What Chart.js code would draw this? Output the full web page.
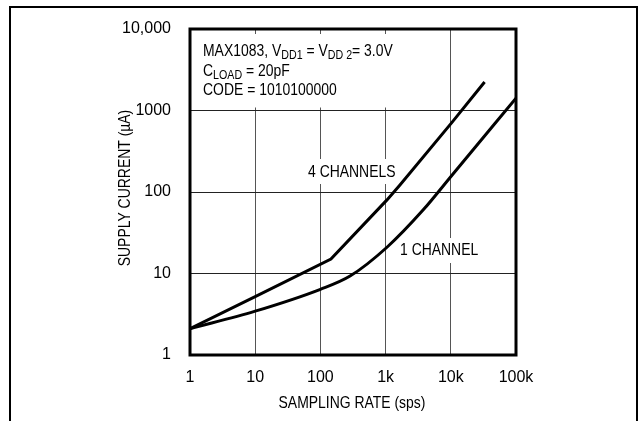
<!DOCTYPE html>
<html>
<head>
<meta charset="utf-8">
<script src="https://cdn.jsdelivr.net/npm/chart.js@4.4.0/dist/chart.umd.min.js"></script>
<style>
  body { margin: 0; background: #fff; }
  #wrap { width: 642px; height: 421px; position: relative; }
</style>
</head>
<body>
<div id="wrap"><canvas id="supply" width="642" height="421"></canvas></div>
<script>
// sampling rate (sps) / supply current (uA)
let fourX = [1, 10, 145, 1050, 1660, 10500, 33000];
let fourY = [2.1, 5.2, 15, 80, 122, 720, 2240];
let oneX = [1, 10, 100, 285, 1050, 3750, 10500, 100000];
let oneY = [2.1, 3.45, 6.4, 9.3, 21, 60, 162, 1420];

let xTicks = [1, 10, 100, 1000, 10000, 100000];
let xLabels = ['1', '10', '100', '1k', '10k', '100k'];
let yTicks = [1, 10, 100, 1000, 10000];
let yLabels = ['1', '10', '100', '1000', '10,000'];

const FONT = "'Liberation Sans', Arial, sans-serif";
const NARROW = 0.82; // squeeze to look like a condensed face

function pairs(xs, ys){
    return xs.map(function(x, i){ return {x: x, y: ys[i]}; });
}

// narrow text: draws squeezed, returns width used
function narrowText(c, t, x, y, size){
    c.font = size + 'px ' + FONT;
    c.save();
    c.translate(x, y);
    c.scale(NARROW, 1);
    c.fillText(t, 0, 0);
    c.restore();
    return c.measureText(t).width * NARROW;
}

function drawRuns(c, x, y, runs){
    runs.forEach(function(r){
        if (r.sub) {
            x += narrowText(c, r.t, x, y + 4, 13);
        } else {
            x += narrowText(c, r.t, x, y, 17);
        }
    });
}

const decor = {
    id: 'decor',
    beforeDatasetsDraw(chart){
        const c = chart.ctx;
        const a = chart.chartArea;
        const ys = chart.scales.y;
        c.save();
        c.fillStyle = '#fff';
        // note box and curve labels hide the grid behind them
        c.fillRect(a.left + 2, a.top + 5, 240, ys.getPixelForValue(1000) - a.top - 8);
        c.fillRect(306, 159, 90, 25);
        c.fillRect(398, 238, 82, 25);

        c.fillStyle = '#000';
        c.textBaseline = 'middle';
        c.textAlign = 'left';
        drawRuns(c, 203, 51, [{t: 'MAX1083, V'}, {t: 'DD1', sub: true}, {t: ' = V'}, {t: 'DD 2', sub: true}, {t: '= 3.0V'}]);
        drawRuns(c, 203, 71, [{t: 'C'}, {t: 'LOAD', sub: true}, {t: ' = 20pF'}]);
        drawRuns(c, 203, 90, [{t: 'CODE = 1010100000'}]);

        narrowText(c, '4 CHANNELS', 308, 172, 17);
        narrowText(c, '1 CHANNEL', 400, 250, 17);

        // axis titles
        c.textAlign = 'center';
        narrowText(c, 'SAMPLING RATE (sps)', 352, 403, 17);
        c.translate(125, 188);
        c.rotate(-Math.PI / 2);
        narrowText(c, 'SUPPLY CURRENT (\u00b5A)', 0, 0, 17);
        c.restore();
    },
    afterDatasetsDraw(chart){
        const c = chart.ctx;
        const a = chart.chartArea;
        c.save();
        c.strokeStyle = '#000';
        c.lineWidth = 3;
        c.strokeRect(a.left, a.top, a.right - a.left, a.bottom - a.top);
        // outer frame, open at the bottom
        c.lineWidth = 2;
        c.beginPath();
        c.moveTo(10, 425);
        c.lineTo(10, 7);
        c.lineTo(637, 7);
        c.lineTo(637, 425);
        c.stroke();
        c.restore();
    }
};

var ctx = document.getElementById('supply').getContext('2d');
var myChart = new Chart(ctx, {
    type: 'line',
    data: {
        datasets: [{
            label: '4 CHANNELS',
            data: pairs(fourX, fourY),
            borderColor: '#000',
            borderWidth: 3,
            pointRadius: 0,
            tension: 0
        }, {
            label: '1 CHANNEL',
            data: pairs(oneX, oneY),
            borderColor: '#000',
            borderWidth: 3,
            pointRadius: 0,
            cubicInterpolationMode: 'monotone'
        }]
    },
    options: {
        responsive: false,
        animation: false,
        devicePixelRatio: 1,
        layout: { padding: { top: 29, right: 126, left: 0, bottom: 0 } },
        plugins: {
            legend: { display: false },
            tooltip: { enabled: false }
        },
        scales: {
            x: {
                type: 'logarithmic',
                min: 1,
                max: 100000,
                afterBuildTicks: function(axis){
                    axis.ticks = xTicks.map(function(v){ return {value: v}; });
                },
                afterFit: function(axis){ axis.height = 66; },
                ticks: {
                    color: '#000',
                    padding: 13,
                    maxRotation: 0,
                    font: { family: FONT, size: 16 },
                    callback: function(value, index){ return xLabels[index]; }
                },
                grid: { color: '#555', lineWidth: 1, drawTicks: false },
                border: { display: false }
            },
            y: {
                type: 'logarithmic',
                min: 1,
                max: 10000,
                afterBuildTicks: function(axis){
                    axis.ticks = yTicks.map(function(v){ return {value: v}; });
                },
                afterFit: function(axis){ axis.width = 190; },
                ticks: {
                    color: '#000',
                    padding: 19,
                    font: { family: FONT, size: 16 },
                    callback: function(value, index){ return yLabels[index]; }
                },
                grid: { color: '#222', lineWidth: 1, drawTicks: false },
                border: { display: false }
            }
        }
    },
    plugins: [decor]
});
</script>
</body>
</html>
